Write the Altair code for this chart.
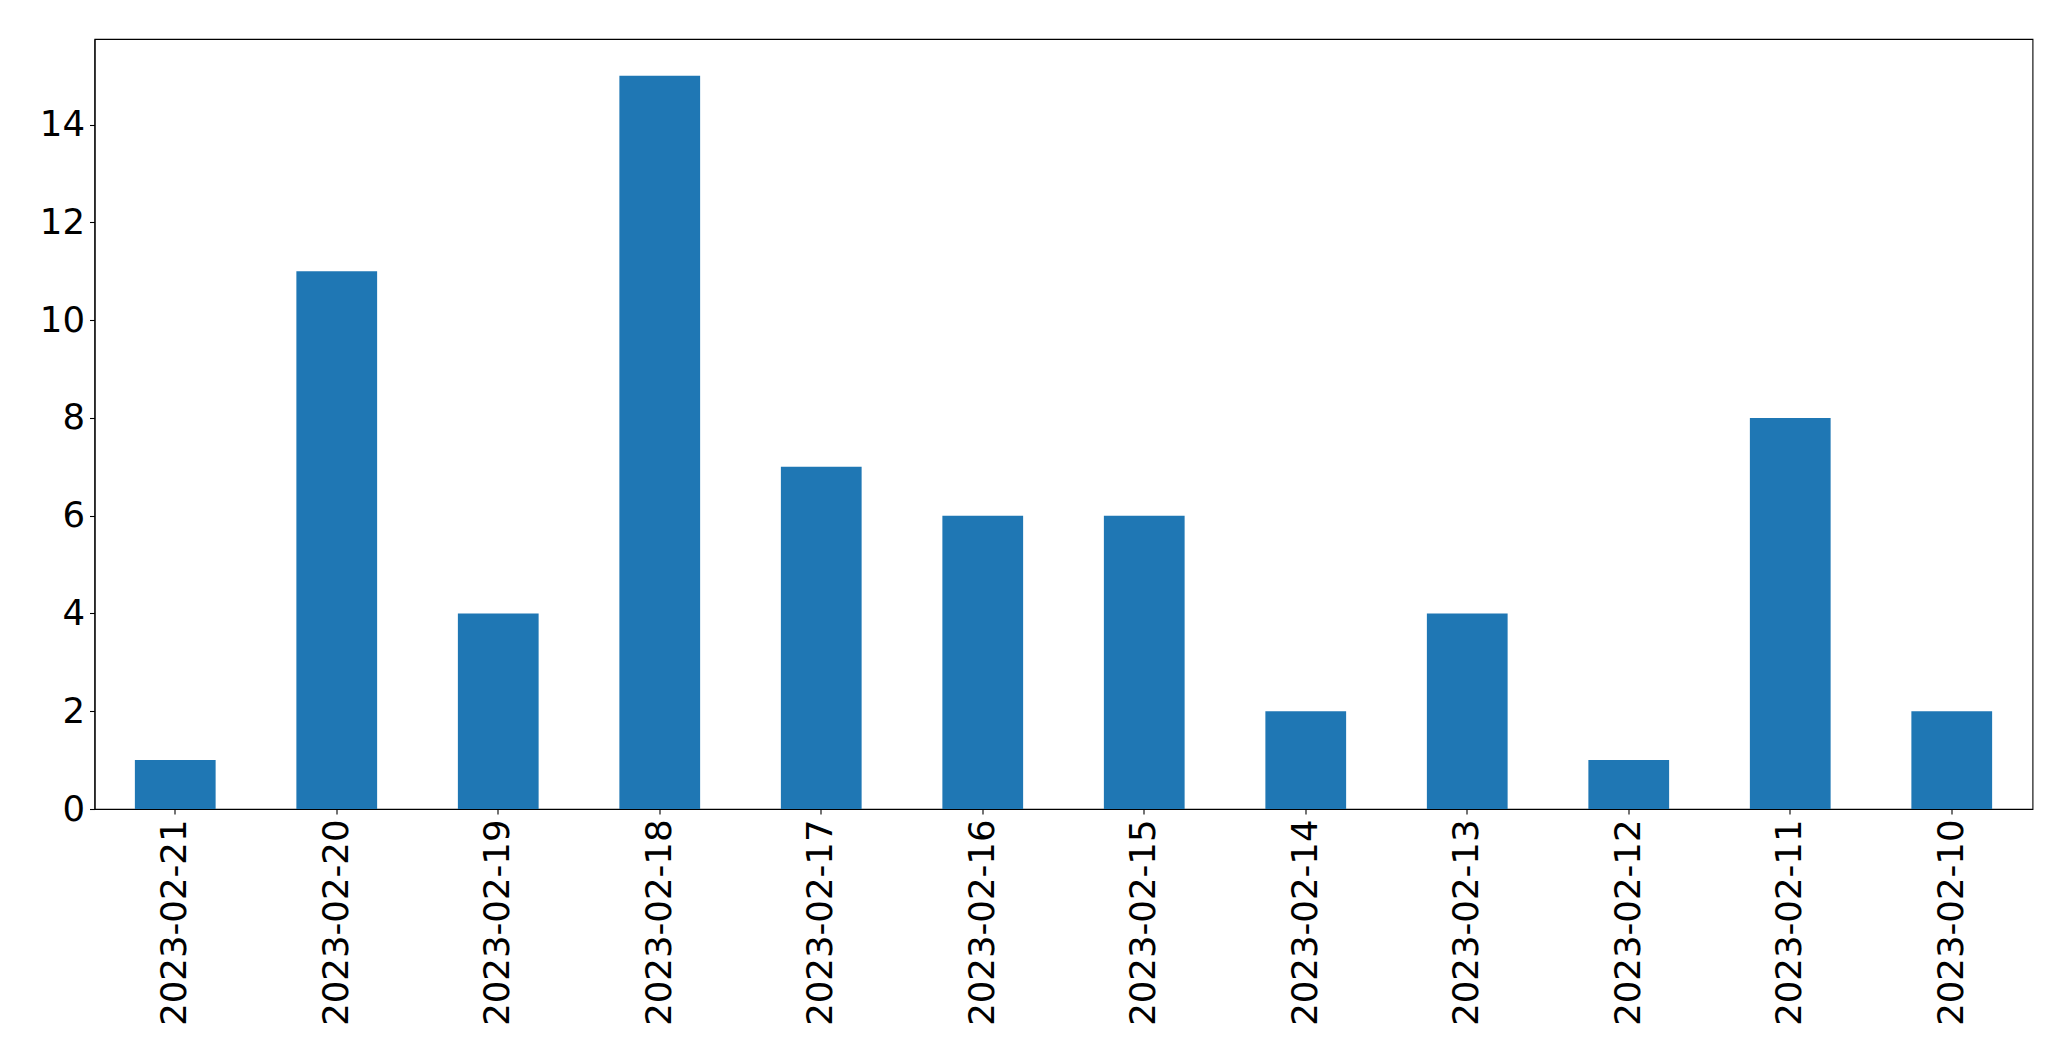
import altair as alt
import pandas as pd

dates = ["2023-02-21", "2023-02-20", "2023-02-19", "2023-02-18", "2023-02-17", "2023-02-16",
         "2023-02-15", "2023-02-14", "2023-02-13", "2023-02-12", "2023-02-11", "2023-02-10"]
counts = [1, 11, 4, 15, 7, 6, 6, 2, 4, 1, 8, 2]
y_ticks = [0, 2, 4, 6, 8, 10, 12, 14]

df = pd.DataFrame({"date": dates, "count": counts})

chart = alt.Chart(df).mark_bar(color="#1f77b4").encode(
    x=alt.X("date:N", sort=None, title=None,
            scale=alt.Scale(paddingInner=0.5, paddingOuter=0.25),
            axis=alt.Axis(labelAngle=-90, labelFontSize=35.5, labelFont="DejaVu Sans",
                          labelColor="black", tickColor="black", domainColor="black",
                          tickSize=5, labelPadding=5, domainWidth=1.1, tickWidth=1.1,
                          labelBaseline="middle", labelAlign="right", labelLimit=0)),
    y=alt.Y("count:Q", title=None,
            scale=alt.Scale(domain=[0, 15.75], nice=False, zero=True),
            axis=alt.Axis(values=y_ticks, labelFontSize=35.5, labelFont="DejaVu Sans",
                          labelColor="black", tickColor="black", domainColor="black",
                          tickSize=5, labelPadding=5, grid=False, domainWidth=1.1,
                          tickWidth=1.1, format="d")),
).properties(
    width=1938, height=770,
    background="white",
    autosize=alt.AutoSizeParams(type="none"),
    padding={"left": 86.5, "top": 31, "right": 20, "bottom": 240},
).configure_view(
    stroke="black", strokeWidth=1.1
)

chart.save("out.html", embed_options={"renderer": "svg", "actions": False})
